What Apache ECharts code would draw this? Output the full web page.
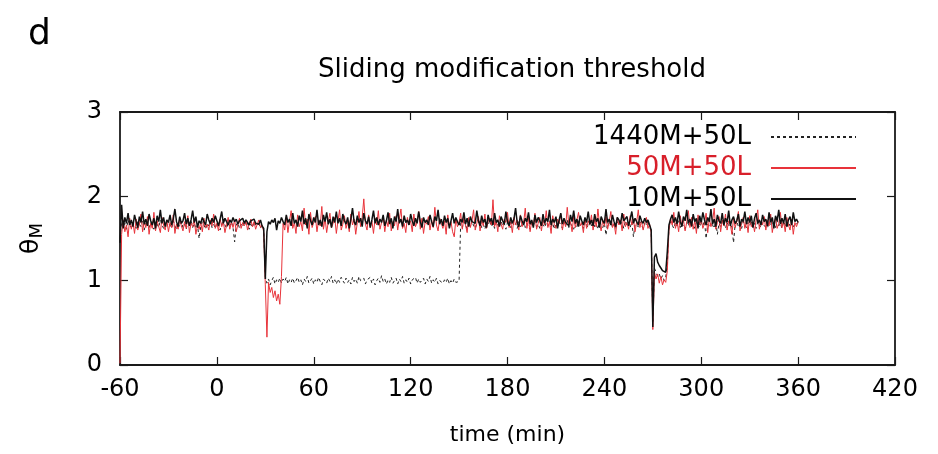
<!DOCTYPE html>
<html>
<head>
<meta charset="utf-8">
<script src="https://cdn.jsdelivr.net/npm/echarts@6/dist/echarts.min.js"></script>
<style>html,body{margin:0;padding:0;background:#fff;}#c{width:938px;height:454px;}</style>
</head>
<body>
<div id="c"></div>
<script>
// time axis: samples every minute from -60 to 360
const T_START = -60;
const T_STEP = 1;
const xTicks = [-60, 0, 60, 120, 180, 240, 300, 360, 420];
const yTicks = [0, 1, 2, 3];
const seriesNames = ['1440M+50L', '50M+50L', '10M+50L'];

const s1440M = [
1.50,1.70,1.64,1.68,1.61,1.72,1.66,1.63,1.69,1.65,
1.62,1.70,1.67,1.64,1.71,1.60,1.68,1.66,1.63,1.69,
1.65,1.61,1.70,1.67,1.63,1.72,1.66,1.62,1.68,1.64,
1.69,1.66,1.62,1.71,1.65,1.60,1.68,1.64,1.70,1.63,
1.67,1.61,1.69,1.65,1.72,1.63,1.68,1.62,1.66,1.50,
1.64,1.70,1.66,1.61,1.68,1.65,1.71,1.63,1.67,1.62,
1.69,1.64,1.60,1.67,1.73,1.66,1.62,1.68,1.65,1.70,
1.63,1.46,1.66,1.69,1.62,1.67,1.64,1.71,1.65,1.68,
1.61,1.67,1.63,1.70,1.66,1.64,1.68,1.62,1.66,1.60,
1.05,0.97,1.02,0.95,1.00,1.04,0.96,1.01,0.98,1.03,
0.97,1.02,0.99,1.04,0.96,1.01,0.98,1.03,0.97,1.00,
1.04,0.98,1.01,0.95,1.02,0.99,1.05,0.97,1.00,1.03,
0.96,1.01,0.98,1.04,0.99,0.95,1.02,1.00,0.97,1.03,
0.99,1.05,0.97,1.01,0.96,1.02,0.98,1.04,1.00,0.97,
1.03,0.98,1.01,0.96,1.04,0.99,1.02,0.97,1.05,1.00,
0.98,1.03,0.96,1.01,0.99,1.04,0.97,1.02,0.95,1.00,
1.03,0.98,1.06,0.99,1.02,0.96,1.01,0.98,1.04,0.97,
1.00,1.03,0.96,1.02,0.99,1.05,0.97,1.01,0.98,1.03,
0.96,1.01,0.99,1.04,0.97,1.02,0.98,1.00,1.03,0.96,
1.02,0.99,1.05,0.97,1.01,0.98,1.03,0.96,1.00,1.02,
0.97,1.01,0.98,1.03,0.96,1.00,0.97,1.02,0.98,0.97,
0.99,1.68,1.63,1.70,1.66,1.61,1.69,1.64,1.71,1.65,
1.62,1.68,1.66,1.70,1.63,1.67,1.61,1.69,1.65,1.72,
1.64,1.68,1.62,1.70,1.66,1.63,1.71,1.65,1.68,1.61,
1.69,1.66,1.63,1.72,1.65,1.68,1.62,1.70,1.64,1.67,
1.71,1.63,1.68,1.66,1.61,1.69,1.65,1.72,1.64,1.67,
1.62,1.70,1.66,1.63,1.69,1.65,1.71,1.64,1.68,1.61,
1.67,1.64,1.70,1.66,1.62,1.69,1.65,1.72,1.63,1.68,
1.66,1.61,1.69,1.64,1.71,1.65,1.68,1.62,1.70,1.66,
1.63,1.69,1.65,1.72,1.64,1.67,1.61,1.70,1.66,1.63,
1.68,1.54,1.69,1.65,1.71,1.63,1.67,1.62,1.70,1.66,
1.64,1.69,1.62,1.71,1.65,1.68,1.63,1.70,1.52,1.67,
1.69,1.64,1.70,1.66,1.62,1.68,1.65,1.71,1.63,1.60,
0.50,1.15,1.10,1.05,1.08,1.02,1.06,1.00,1.04,1.20,
1.64,1.70,1.66,1.62,1.69,1.65,1.71,1.63,1.68,1.66,
1.61,1.69,1.65,1.72,1.64,1.67,1.62,1.70,1.66,1.63,
1.68,1.65,1.71,1.50,1.67,1.63,1.69,1.66,1.62,1.70,
1.55,1.68,1.64,1.71,1.66,1.62,1.69,1.65,1.70,1.63,
1.45,1.67,1.71,1.64,1.68,1.62,1.70,1.66,1.63,1.69,
1.65,1.71,1.64,1.68,1.62,1.70,1.66,1.63,1.69,1.65,
1.67,1.62,1.70,1.66,1.64,1.69,1.63,1.71,1.65,1.68,
1.62,1.70,1.66,1.63,1.69,1.65,1.71,1.64,1.67,1.66,
1.68];

const s50M = [
0.02,1.55,1.72,1.58,1.66,1.52,1.74,1.61,1.69,1.56,
1.73,1.60,1.67,1.79,1.58,1.70,1.63,1.76,1.55,1.68,
1.62,1.81,1.59,1.71,1.64,1.57,1.75,1.66,1.60,1.72,
1.58,1.69,1.63,1.78,1.56,1.67,1.61,1.74,1.65,1.59,
1.70,1.62,1.77,1.57,1.68,1.64,1.73,1.55,1.66,1.61,
1.69,1.58,1.74,1.63,1.67,1.60,1.72,1.65,1.79,1.62,
1.68,1.59,1.73,1.64,1.70,1.57,1.66,1.75,1.61,1.69,
1.63,1.72,1.58,1.67,1.74,1.62,1.69,1.65,1.71,1.60,
1.68,1.73,1.64,1.70,1.61,1.67,1.72,1.63,1.66,1.58,
0.95,0.33,0.98,0.86,0.92,0.80,0.88,0.76,0.84,0.72,
1.05,1.68,1.60,1.75,1.57,1.71,1.83,1.62,1.69,1.56,
1.78,1.64,1.70,1.59,1.86,1.66,1.73,1.55,1.81,1.63,
1.69,1.76,1.58,1.72,1.65,1.88,1.61,1.74,1.57,1.70,
1.80,1.63,1.68,1.75,1.56,1.71,1.84,1.60,1.67,1.77,
1.62,1.70,1.58,1.79,1.66,1.73,1.55,1.69,1.82,1.64,
1.75,1.97,1.67,1.60,1.78,1.63,1.71,1.56,1.74,1.66,
1.83,1.61,1.69,1.76,1.58,1.72,1.64,1.80,1.59,1.70,
1.65,1.77,1.60,1.73,1.85,1.62,1.68,1.57,1.75,1.66,
1.71,1.58,1.79,1.64,1.69,1.82,1.61,1.74,1.56,1.70,
1.67,1.76,1.60,1.72,1.63,1.87,1.66,1.59,1.74,1.68,
1.62,1.71,1.55,1.78,1.65,1.70,1.58,1.52,1.73,1.64,
1.69,1.80,1.61,1.74,1.66,1.57,1.75,1.63,1.71,1.84,
1.60,1.68,1.76,1.59,1.72,1.65,1.79,1.62,1.70,1.74,
1.66,1.96,1.64,1.71,1.58,1.77,1.67,1.61,1.73,1.69,
1.81,1.63,1.70,1.57,1.75,1.66,1.72,1.60,1.78,1.64,
1.69,1.86,1.62,1.74,1.58,1.71,1.65,1.80,1.61,1.68,
1.75,1.59,1.72,1.66,1.83,1.63,1.70,1.56,1.77,1.67,
1.62,1.73,1.68,1.79,1.60,1.71,1.64,1.87,1.66,1.70,
1.58,1.76,1.63,1.72,1.81,1.65,1.69,1.57,1.74,1.62,
1.71,1.66,1.78,1.60,1.73,1.64,1.85,1.67,1.59,1.72,
1.65,1.76,1.61,1.70,1.82,1.63,1.68,1.55,1.75,1.66,
1.72,1.59,1.79,1.64,1.69,1.61,1.77,1.66,1.73,1.58,
1.70,1.84,1.63,1.71,1.60,1.68,1.75,1.62,1.67,1.57,
0.42,1.10,1.02,1.08,0.97,1.05,0.95,1.01,0.98,1.12,
1.60,1.74,1.66,1.81,1.62,1.70,1.58,1.77,1.65,1.72,
1.59,1.69,1.83,1.63,1.75,1.61,1.71,1.56,1.78,1.66,
1.73,1.62,1.68,1.80,1.57,1.74,1.64,1.70,1.86,1.61,
1.69,1.76,1.58,1.72,1.65,1.79,1.60,1.71,1.67,1.55,
1.74,1.63,1.70,1.82,1.59,1.68,1.75,1.62,1.71,1.57,
1.77,1.64,1.69,1.58,1.73,1.84,1.61,1.70,1.66,1.76,
1.60,1.72,1.65,1.79,1.57,1.69,1.74,1.62,1.68,1.81,
1.63,1.71,1.58,1.75,1.66,1.60,1.73,1.55,1.69,1.64,
1.70];

const s10M = [
1.45,1.90,1.62,1.75,1.68,1.80,1.66,1.72,1.64,1.78,
1.70,1.63,1.76,1.69,1.82,1.67,1.73,1.65,1.79,1.71,
1.66,1.74,1.62,1.77,1.70,1.84,1.68,1.75,1.64,1.72,
1.69,1.78,1.66,1.73,1.85,1.70,1.64,1.76,1.68,1.71,
1.80,1.67,1.74,1.65,1.72,1.83,1.69,1.76,1.63,1.71,
1.68,1.75,1.70,1.66,1.79,1.72,1.67,1.74,1.69,1.77,
1.71,1.65,1.73,1.82,1.68,1.74,1.70,1.66,1.72,1.69,
1.75,1.70,1.73,1.67,1.71,1.69,1.74,1.68,1.72,1.70,
1.66,1.71,1.69,1.73,1.68,1.70,1.67,1.72,1.65,1.62,
1.02,1.58,1.70,1.67,1.72,1.69,1.74,1.60,1.71,1.68,
1.75,1.70,1.66,1.78,1.69,1.73,1.65,1.80,1.68,1.72,
1.64,1.77,1.70,1.83,1.67,1.74,1.62,1.79,1.71,1.66,
1.75,1.69,1.84,1.66,1.72,1.64,1.78,1.70,1.81,1.67,
1.73,1.63,1.76,1.69,1.82,1.68,1.74,1.65,1.79,1.71,
1.67,1.75,1.62,1.73,1.86,1.70,1.66,1.77,1.69,1.74,
1.64,1.80,1.71,1.67,1.76,1.63,1.72,1.83,1.68,1.75,
1.66,1.73,1.69,1.78,1.65,1.71,1.81,1.67,1.74,1.62,
1.76,1.70,1.85,1.68,1.73,1.64,1.77,1.69,1.72,1.66,
1.79,1.71,1.65,1.74,1.68,1.82,1.70,1.63,1.75,1.69,
1.72,1.66,1.78,1.70,1.64,1.76,1.71,1.84,1.67,1.73,
1.65,1.77,1.69,1.74,1.62,1.71,1.80,1.68,1.75,1.70,
1.66,1.73,1.69,1.81,1.67,1.74,1.64,1.76,1.70,1.72,
1.68,1.83,1.71,1.65,1.77,1.69,1.73,1.63,1.78,1.70,
1.74,1.66,1.80,1.69,1.72,1.64,1.76,1.71,1.67,1.82,
1.70,1.65,1.75,1.68,1.73,1.86,1.69,1.64,1.77,1.71,
1.66,1.74,1.70,1.81,1.67,1.72,1.63,1.78,1.69,1.75,
1.71,1.65,1.79,1.68,1.74,1.70,1.84,1.66,1.73,1.69,
1.76,1.62,1.72,1.80,1.67,1.74,1.69,1.71,1.65,1.78,
1.70,1.83,1.68,1.73,1.64,1.77,1.71,1.66,1.75,1.69,
1.82,1.67,1.72,1.65,1.79,1.70,1.74,1.63,1.76,1.71,
1.68,1.85,1.69,1.73,1.66,1.78,1.70,1.64,1.75,1.72,
1.67,1.80,1.71,1.69,1.76,1.65,1.73,1.82,1.68,1.74,
1.70,1.66,1.77,1.71,1.68,1.74,1.69,1.72,1.66,1.60,
0.45,1.28,1.32,1.22,1.18,1.15,1.12,1.14,1.10,1.35,
1.66,1.73,1.78,1.69,1.75,1.67,1.82,1.70,1.64,1.76,
1.71,1.84,1.68,1.73,1.65,1.79,1.70,1.74,1.62,1.77,
1.69,1.81,1.72,1.66,1.75,1.70,1.85,1.67,1.73,1.64,
1.78,1.71,1.68,1.80,1.66,1.74,1.69,1.83,1.65,1.72,
1.76,1.68,1.71,1.79,1.64,1.73,1.70,1.82,1.67,1.75,
1.69,1.77,1.63,1.74,1.80,1.68,1.72,1.66,1.78,1.70,
1.73,1.65,1.81,1.69,1.75,1.62,1.77,1.71,1.84,1.67,
1.74,1.68,1.79,1.64,1.72,1.76,1.66,1.81,1.70,1.73,
1.69];

const FONT = 'DejaVu Sans';
function pairs(vals) {
  return vals.map(function (v, i) { return [T_START + i * T_STEP, v]; });
}

const chart = echarts.init(document.getElementById('c'), null, { renderer: 'canvas' });

const axisLine = { show: true, onZero: false, lineStyle: { color: '#1a1a1a', width: 1.8 } };
const tick = { show: true, inside: true, length: 8, lineStyle: { color: '#1a1a1a', width: 1.2 } };

chart.setOption({
  animation: false,
  backgroundColor: '#fff',
  title: [
    { text: 'd', left: 23, top: 12, textStyle: { fontFamily: FONT, fontSize: 36, fontWeight: 'normal', color: '#000' } },
    { text: 'Sliding modification threshold', left: 507, textAlign: 'center', top: 52,
      textStyle: { fontFamily: FONT, fontSize: 26, fontWeight: 'normal', color: '#000' } }
  ],
  grid: { left: 120, right: 43, top: 112, bottom: 89, containLabel: false },
  legend: {
    orient: 'vertical', right: 81, top: 124, align: 'right', padding: 0,
    itemWidth: 85, itemHeight: 2, itemGap: 5,
    itemStyle: { opacity: 0 },
    textStyle: { fontFamily: FONT, fontSize: 26, color: '#000', padding: [0, 15, 0, 0] },
    data: [
      { name: seriesNames[0] },
      { name: seriesNames[1], textStyle: { color: '#d81f2a' } },
      { name: seriesNames[2] }
    ]
  },
  xAxis: [
    {
      type: 'value', position: 'bottom', min: xTicks[0], max: xTicks[xTicks.length - 1], interval: 60,
      axisLine: axisLine, axisTick: tick, splitLine: { show: false },
      axisLabel: { fontFamily: FONT, fontSize: 24, color: '#000', margin: 13 },
      name: 'time (min)', nameLocation: 'middle', nameGap: 59,
      nameTextStyle: { fontFamily: FONT, fontSize: 22, color: '#000' }
    },
    {
      type: 'value', position: 'top', min: xTicks[0], max: xTicks[xTicks.length - 1], interval: 60,
      axisLine: axisLine, axisTick: tick, splitLine: { show: false }, axisLabel: { show: false }
    }
  ],
  yAxis: [
    {
      type: 'value', position: 'left', min: yTicks[0], max: yTicks[yTicks.length - 1], interval: 1,
      axisLine: axisLine, axisTick: tick, splitLine: { show: false },
      axisLabel: { fontFamily: FONT, fontSize: 24, color: '#000', margin: 18 },
      name: '{a|θ}{b|M}', nameLocation: 'middle', nameGap: 74,
      nameTextStyle: {
        fontFamily: FONT, color: '#000',
        rich: {
          a: { fontFamily: FONT, fontSize: 25, color: '#000' },
          b: { fontFamily: FONT, fontSize: 18, color: '#000', padding: [12, 0, 0, 0] }
        }
      }
    },
    {
      type: 'value', position: 'right', min: yTicks[0], max: yTicks[yTicks.length - 1], interval: 1,
      axisLine: axisLine, axisTick: tick, splitLine: { show: false }, axisLabel: { show: false }
    }
  ],
  series: [
    {
      name: seriesNames[0], type: 'line', xAxisIndex: 0, yAxisIndex: 0, data: pairs(s1440M),
      symbol: 'none', lineStyle: { color: '#222', width: 1, type: [3, 3] }, itemStyle: { color: '#222' }, z: 2
    },
    {
      name: seriesNames[1], type: 'line', xAxisIndex: 0, yAxisIndex: 0, data: pairs(s50M),
      symbol: 'none', lineStyle: { color: '#e8333a', width: 1 }, itemStyle: { color: '#e8333a' }, z: 3
    },
    {
      name: seriesNames[2], type: 'line', xAxisIndex: 0, yAxisIndex: 0, data: pairs(s10M),
      symbol: 'none', lineStyle: { color: '#111', width: 1.5 }, itemStyle: { color: '#111' }, z: 4
    }
  ]
});
</script>
</body>
</html>
